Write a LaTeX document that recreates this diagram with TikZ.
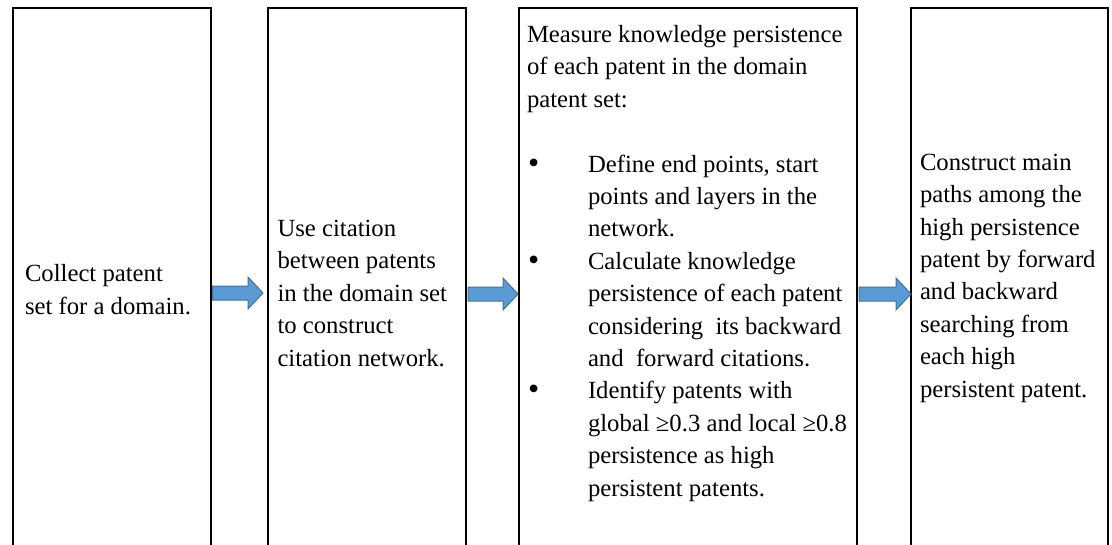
\documentclass[tikz,border=0pt]{standalone}
\usepackage{fontspec}
\setmainfont{Liberation Serif}
\usetikzlibrary{calc}
\newcommand\bulitem{\makebox[61pt][l]{\hspace{1pt}\raisebox{-1pt}{\fontsize{32}{32}\selectfont\textbullet}}}
\newcommand\indt{\hspace*{61pt}}
\begin{document}
\begin{tikzpicture}[x=1pt,y=-1pt,
  stepbox/.style={draw=black,line width=2pt,fill=white,minimum height=572pt,inner sep=0pt,outer sep=0pt},
  boxtext/.style={anchor=base west,inner sep=0pt,outer sep=0pt,align=left,
    font=\fontsize{24.7}{32.4}\selectfont},
  blockarr/.style={fill=arrowfill,draw=arrowline,line width=1pt,line join=miter}]
\definecolor{arrowfill}{HTML}{5B9BD5}
\definecolor{arrowline}{HTML}{41719C}
\useasboundingbox (0,0) rectangle (1112,544);
\clip (0,0) rectangle (1112,544);
\fill[white] (0,0) rectangle (1112,544);

\node[stepbox,minimum width=198pt] (b1) at (112,294) {};
\node[stepbox,minimum width=198pt] (b2) at (367,294) {};
\node[stepbox,minimum width=338pt] (b3) at (688,294) {};
\node[stepbox,minimum width=197pt] (b4) at (1009.5,294) {};

% base anchor = baseline of the last line
\node[boxtext] (t1) at (25,314) {Collect patent\\set for a domain.};
\node[boxtext] (t2) at (277.5,366) {Use citation\\between patents\\in the domain set\\to construct\\citation network.};
\node[boxtext] (t3) at (527,496) {Measure knowledge persistence\\of each patent in the domain\\patent set:\\\mbox{}\\
\bulitem Define end points, start\\\indt points and layers in the\\\indt network.\\
\bulitem Calculate knowledge\\\indt persistence of each patent\\\indt considering\ \ its backward\\\indt and\ \ forward citations.\\
\bulitem Identify patents with\\\indt global ≥0.3 and local ≥0.8\\\indt persistence as high\\\indt persistent patents.};
\node[boxtext] (t4) at (920,397) {Construct main\\paths among the\\high persistence\\patent by forward\\and backward\\searching from\\each high\\persistent patent.};

\coordinate (a1s) at ($(b1.east)+(1.5,-1)$);
\coordinate (a1e) at ($(b2.west)+(-5,-1)$);
\coordinate (a2s) at ($(b2.east)+(2,0)$);
\coordinate (a2e) at ($(b3.west)+(-1,0)$);
\coordinate (a3s) at ($(b3.east)+(2,0)$);
\coordinate (a3e) at ($(b4.west)+(0,0)$);

\foreach \s/\e in {a1s/a1e,a2s/a2e,a3s/a3e}{
  \path let \p1=(\s), \p2=(\e) in
    [blockarr] (\x1,\y1+7pt) -- (\x2-15pt,\y1+7pt) -- (\x2-15pt,\y1+16pt) -- (\x2,\y1)
    -- (\x2-15pt,\y1-16pt) -- (\x2-15pt,\y1-7pt) -- (\x1,\y1-7pt) -- cycle;
}
\end{tikzpicture}
\end{document}
